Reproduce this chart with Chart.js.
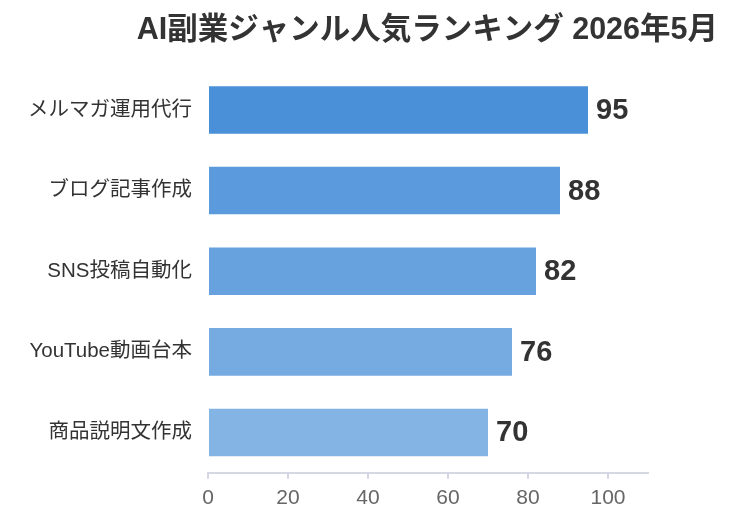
<!DOCTYPE html>
<html lang="ja">
<head>
<meta charset="utf-8">
<script src="https://cdn.jsdelivr.net/npm/chart.js@4"></script>
<style>
    html, body { margin: 0; padding: 0; background: #fff; }
    #wrap { width: 736px; height: 523px; }
</style>
</head>
<body>
<div id="wrap"><canvas id="rankChart"></canvas></div>
<script>
const categories = ['メルマガ運用代行', 'ブログ記事作成', 'SNS投稿自動化', 'YouTube動画台本', '商品説明文作成'];
const scores = [95, 88, 82, 76, 70];
const xTicks = [0, 20, 40, 60, 80, 100];
const barColors = ['#4a90d9', '#5a9add', '#67a2df', '#76abe1', '#84b4e4'];
const titleText = 'AI副業ジャンル人気ランキング 2026年5月';

const baseFont = '"Liberation Sans", "Noto Sans CJK JP", sans-serif';

// draw value labels at the end of each bar
const valueLabels = {
    id: 'valueLabels',
    afterDatasetsDraw(chart) {
        const ctx = chart.ctx;
        const meta = chart.getDatasetMeta(0);
        ctx.save();
        ctx.font = 'bold 29px "Liberation Sans", Arial, sans-serif';
        ctx.fillStyle = '#333';
        ctx.textBaseline = 'middle';
        ctx.textAlign = 'left';
        meta.data.forEach((bar, i) => {
            ctx.fillText(String(scores[i]), bar.x + 8, bar.y + 1);
        });
        ctx.restore();
    }
};

new Chart(document.getElementById('rankChart'), {
    type: 'bar',
    data: {
        labels: categories,
        datasets: [{
            data: scores,
            backgroundColor: barColors,
            borderWidth: 0,
            categoryPercentage: 0.59,
            barPercentage: 1
        }]
    },
    options: {
        indexAxis: 'y',
        responsive: true,
        maintainAspectRatio: false,
        animation: false,
        layout: { padding: { left: 12, right: 18, top: 4, bottom: 5 } },
        scales: {
            x: {
                min: 0,
                max: 110,
                afterBuildTicks: scale => {
                    scale.ticks = xTicks.map(v => ({ value: v }));
                },
                ticks: {
                    color: '#666',
                    padding: 7,
                    font: { size: 21, family: baseFont }
                },
                grid: { drawOnChartArea: false, drawTicks: true, tickLength: 6, color: '#d5d8e2', lineWidth: 2 },
                border: { display: true, color: '#d5d8e2', width: 2 }
            },
            y: {
                afterFit: scale => { scale.width = 196; },
                ticks: {
                    color: '#333',
                    padding: 8,
                    font: { size: 20.5, family: baseFont }
                },
                grid: { display: false },
                border: { display: false }
            },
            // empty right-hand axis that only reserves room for the value labels
            spacer: {
                type: 'linear',
                position: 'right',
                afterFit: scale => { scale.width = 70; },
                ticks: { display: false },
                grid: { display: false },
                border: { display: false }
            }
        },
        plugins: {
            legend: { display: false },
            tooltip: { enabled: false },
            title: {
                display: true,
                text: titleText,
                align: 'end',
                color: '#333',
                font: { size: 30.5, weight: 'bold', family: baseFont },
                padding: { top: 8, bottom: 21 }
            }
        }
    },
    plugins: [valueLabels]
});
</script>
</body>
</html>
